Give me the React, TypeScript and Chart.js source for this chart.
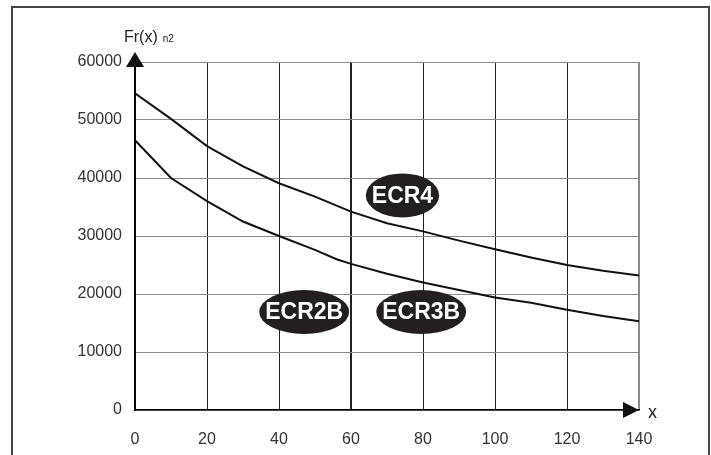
import React, { useEffect, useRef } from "react";
import { Chart, registerables } from "chart.js";

Chart.register(...registerables);

// ---- data ----
const xTickValues = [0, 20, 40, 60, 80, 100, 120, 140];
const yTickValues = [0, 10000, 20000, 30000, 40000, 50000, 60000];

const ecr4X = [0, 10, 20, 30, 40, 50, 60, 70, 80, 90, 100, 110, 120, 130, 140];
const ecr4Y = [54600, 50200, 45500, 42000, 39100, 36800, 34200, 32200, 30800, 29200, 27700, 26300, 25000, 24000, 23200];

const ecr23X = [0, 10, 20, 30, 40, 50, 56, 60, 70, 80, 90, 100, 110, 120, 130, 140];
const ecr23Y = [46500, 40000, 36000, 32500, 30000, 27600, 26000, 25200, 23500, 22000, 20700, 19400, 18500, 17300, 16200, 15300];

const labelTexts = ["ECR4", "ECR2B", "ECR3B"];
const labelX = [74.3, 47, 79.5];
const labelY = [37000, 16900, 16900];

const yAxisTitle = "Fr(x)";
const yAxisSub = "n2";
const xAxisTitle = "x";

const FONT = "'Liberation Sans', Arial, Helvetica, sans-serif";

const decorPlugin = {
  id: "decor",
  afterDraw(chart: any) {
    const ctx = chart.ctx as CanvasRenderingContext2D;
    const xs = chart.scales.x;
    const ys = chart.scales.y;
    const a = chart.chartArea;
    ctx.save();

    // outer frame
    ctx.strokeStyle = "#444";
    ctx.lineWidth = 2;
    ctx.beginPath();
    ctx.moveTo(12, 470);
    ctx.lineTo(12, 7);
    ctx.lineTo(709, 7);
    ctx.lineTo(709, 470);
    ctx.stroke();

    // y arrow
    ctx.fillStyle = "#111";
    ctx.beginPath();
    ctx.moveTo(a.left, a.top - 10);
    ctx.lineTo(a.left - 9, a.top + 5);
    ctx.lineTo(a.left + 9, a.top + 5);
    ctx.closePath();
    ctx.fill();

    // x arrow
    ctx.beginPath();
    ctx.moveTo(a.right, a.bottom);
    ctx.lineTo(a.right - 16, a.bottom - 8);
    ctx.lineTo(a.right - 16, a.bottom + 8);
    ctx.closePath();
    ctx.fill();

    // axis titles
    ctx.fillStyle = "#222";
    ctx.textBaseline = "alphabetic";
    ctx.textAlign = "left";
    ctx.font = `16px ${FONT}`;
    ctx.fillText(yAxisTitle, a.left - 11, 42);
    const w = ctx.measureText(yAxisTitle).width;
    ctx.font = `10px ${FONT}`;
    ctx.fillText(yAxisSub, a.left - 11 + w + 5, 42);
    ctx.font = `18px ${FONT}`;
    ctx.fillText(xAxisTitle, a.right + 9, a.bottom + 8);

    // ellipse labels
    ctx.font = `bold 23px ${FONT}`;
    ctx.textAlign = "center";
    ctx.textBaseline = "middle";
    for (let i = 0; i < labelTexts.length; i++) {
      const cx = xs.getPixelForValue(labelX[i]);
      const cy = ys.getPixelForValue(labelY[i]);
      const tw = ctx.measureText(labelTexts[i]).width;
      const rx = tw / 2 + 6;
      const ry = 22;
      ctx.fillStyle = "#231f20";
      ctx.beginPath();
      ctx.ellipse(cx, cy, rx, ry, 0, 0, Math.PI * 2);
      ctx.fill();
      ctx.fillStyle = "#fff";
      ctx.fillText(labelTexts[i], cx, cy + 1);
    }
    ctx.restore();
  },
};

export default function App() {
  const ref = useRef<HTMLCanvasElement | null>(null);

  useEffect(() => {
    if (!ref.current) return;
    const chart = new Chart(ref.current, {
      type: "line",
      data: {
        datasets: [
          {
            label: "ECR4",
            data: ecr4X.map((x, i) => ({ x, y: ecr4Y[i] })),
            borderColor: "#111",
            borderWidth: 2,
            pointRadius: 0,
            tension: 0,
            fill: false,
          },
          {
            label: "ECR2B/ECR3B",
            data: ecr23X.map((x, i) => ({ x, y: ecr23Y[i] })),
            borderColor: "#111",
            borderWidth: 2,
            pointRadius: 0,
            tension: 0,
            fill: false,
          },
        ],
      },
      options: {
        responsive: false,
        animation: false,
        events: [],
        layout: { padding: { left: 0, top: 62, right: 72, bottom: 0 } },
        plugins: {
          legend: { display: false },
          tooltip: { enabled: false },
          title: { display: false },
        },
        scales: {
          x: {
            type: "linear",
            min: 0,
            max: 140,
            afterBuildTicks: (s: any) => {
              s.ticks = xTickValues.map((v) => ({ value: v }));
            },
            afterFit: (s: any) => {
              s.height = 45;
            },
            grid: {
              drawTicks: false,
              color: (c: any) => (c.tick && c.tick.value === 140 ? "#8a8a8a" : "#222"),
              lineWidth: (c: any) =>
                c.tick && (c.tick.value === 60 || c.tick.value === 140) ? 2 : 1,
            },
            border: { color: "#000", width: 1.5 },
            ticks: {
              padding: 20,
              color: "#333",
              font: { family: FONT, size: 16 },
              maxRotation: 0,
              callback: (v: any) => String(v),
            },
          },
          y: {
            type: "linear",
            min: 0,
            max: 60000,
            afterBuildTicks: (s: any) => {
              s.ticks = yTickValues.map((v) => ({ value: v }));
            },
            afterFit: (s: any) => {
              s.width = 135;
            },
            grid: {
              drawTicks: false,
              color: "#8a8a8a",
              lineWidth: 1,
            },
            border: { color: "#000", width: 2 },
            ticks: {
              padding: 13,
              color: "#333",
              font: { family: FONT, size: 16 },
              callback: (v: any) => String(v),
            },
          },
        },
      },
      plugins: [decorPlugin],
    });
    return () => chart.destroy();
  }, []);

  return (
    <div style={{ position: "absolute", left: 0, top: 0, width: 711, height: 455, background: "#fff" }}>
      <canvas ref={ref} width={711} height={455} style={{ display: "block" }} />
    </div>
  );
}
